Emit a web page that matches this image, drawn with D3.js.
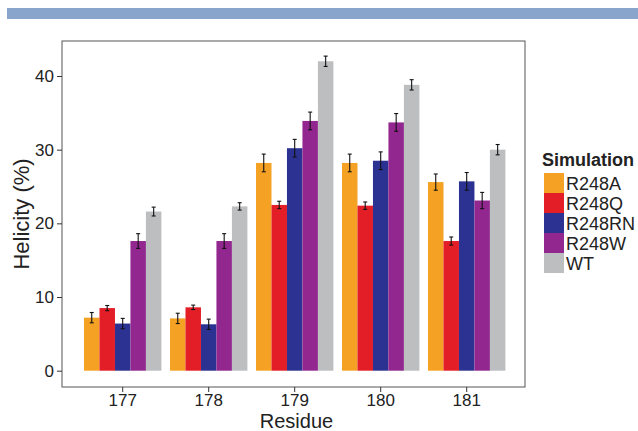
<!DOCTYPE html>
<html>
<head>
<meta charset="utf-8">
<script src="https://cdn.jsdelivr.net/npm/d3@7"></script>
<style>
  body { margin: 0; background: #fff; }
  text { font-family: "Liberation Sans", Arial, sans-serif; fill: #222; }
</style>
</head>
<body>
<div id="chart"></div>
<script>
// residues on the x axis
var residues = ["177", "178", "179", "180", "181"];
var simulations = ["R248A", "R248Q", "R248RN", "R248W", "WT"];
var simColors = ["#F5A124", "#E41E26", "#2C3291", "#92278F", "#BCBEC0"];
// helicity (%) per simulation, one value per residue
var helR248A  = [7.2, 7.1, 28.2, 28.2, 25.6];
var helR248Q  = [8.5, 8.6, 22.5, 22.4, 17.6];
var helR248RN = [6.4, 6.3, 30.2, 28.5, 25.7];
var helR248W  = [17.6, 17.6, 33.9, 33.7, 23.1];
var helWT     = [21.6, 22.3, 42.0, 38.8, 30.0];
// error bar half widths
var errR248A  = [0.7, 0.7, 1.2, 1.2, 1.1];
var errR248Q  = [0.35, 0.3, 0.5, 0.5, 0.55];
var errR248RN = [0.7, 0.7, 1.2, 1.2, 1.2];
var errR248W  = [1.0, 1.0, 1.2, 1.2, 1.1];
var errWT     = [0.6, 0.5, 0.7, 0.7, 0.7];
var yTicks = [0, 10, 20, 30, 40];

var values = [helR248A, helR248Q, helR248RN, helR248W, helWT];
var errors = [errR248A, errR248Q, errR248RN, errR248W, errWT];

// 组装成扁平数组
var data = [];
residues.forEach(function (r, i) {
    simulations.forEach(function (s, j) {
        data.push({residue: r, sim: s, value: values[j][i], err: errors[j][i], color: simColors[j]});
    });
});

var W = 638, H = 431;
var panel = {left: 62, right: 525, top: 41, bottom: 387};

var svg = d3.select("#chart").append("svg")
    .attr("width", W)
    .attr("height", H);

// top blue band
svg.append("rect")
    .attr("x", 7).attr("y", 8)
    .attr("width", W - 7).attr("height", 11)
    .attr("fill", "#8AA5CB");

// 使用原图的像素位置校准
var step = 86;
var x = d3.scaleBand()
    .domain(residues)
    .range([122.7 - step / 2, 466.7 + step / 2])
    .paddingInner(0.1)
    .paddingOuter(0.05);

var xSub = d3.scaleBand()
    .domain(simulations)
    .range([0, x.bandwidth()]);

var y = d3.scaleLinear()
    .domain([0, 40])
    .range([370.7, 76]);

// panel border
svg.append("rect")
    .attr("x", panel.left).attr("y", panel.top)
    .attr("width", panel.right - panel.left)
    .attr("height", panel.bottom - panel.top)
    .attr("fill", "none")
    .attr("stroke", "#555")
    .attr("stroke-width", 1);

// bars
svg.append("g").selectAll("rect")
    .data(data)
    .enter().append("rect")
    .attr("x", function (d) { return x(d.residue) + xSub(d.sim); })
    .attr("y", function (d) { return y(d.value); })
    .attr("width", xSub.bandwidth())
    .attr("height", function (d) { return y(0) - y(d.value); })
    .attr("fill", function (d) { return d.color; });

// error bars
var eb = svg.append("g").attr("stroke", "#111").attr("stroke-width", 1.1);
data.forEach(function (d) {
    var cx = x(d.residue) + xSub(d.sim) + xSub.bandwidth() / 2;
    eb.append("line")
        .attr("x1", cx).attr("x2", cx)
        .attr("y1", y(d.value - d.err)).attr("y2", y(d.value + d.err));
    [d.value - d.err, d.value + d.err].forEach(function (v) {
        eb.append("line")
            .attr("x1", cx - 2).attr("x2", cx + 2)
            .attr("y1", y(v)).attr("y2", y(v));
    });
});

// y axis
var yAxis = svg.append("g")
    .attr("transform", "translate(" + panel.left + ",0)")
    .call(d3.axisLeft(y).tickValues(yTicks).tickSize(5).tickPadding(3));
yAxis.select(".domain").remove();
yAxis.selectAll("line").attr("stroke", "#333");
yAxis.selectAll("text").style("font-size", "17px").attr("fill", "#222");

// x axis
var xAxis = svg.append("g")
    .attr("transform", "translate(0," + panel.bottom + ")")
    .call(d3.axisBottom(x).tickSize(5).tickPadding(2));
xAxis.select(".domain").remove();
xAxis.selectAll("line").attr("stroke", "#333");
xAxis.selectAll("text").style("font-size", "17px").attr("fill", "#222");

// axis titles
svg.append("text")
    .attr("transform", "translate(29,214) rotate(-90)")
    .attr("text-anchor", "middle")
    .style("font-size", "22px")
    .text("Helicity (%)");

svg.append("text")
    .attr("x", 296.5)
    .attr("y", 428)
    .attr("text-anchor", "middle")
    .style("font-size", "20px")
    .text("Residue");

// legend
var legend = svg.append("g").attr("transform", "translate(542,0)");
legend.append("text")
    .attr("x", 0).attr("y", 166)
    .style("font-size", "18px")
    .style("font-weight", "bold")
    .text("Simulation");
var item = legend.selectAll(".legendItem")
    .data(simulations)
    .enter().append("g")
    .attr("class", "legendItem")
    .attr("transform", function (d, i) { return "translate(2," + (173 + i * 20) + ")"; });
item.append("rect")
    .attr("width", 20).attr("height", 20)
    .attr("fill", function (d, i) { return simColors[i]; });
item.append("text")
    .attr("x", 22).attr("y", 16.5)
    .style("font-size", "18px")
    .text(function (d) { return d; });
</script>
</body>
</html>
